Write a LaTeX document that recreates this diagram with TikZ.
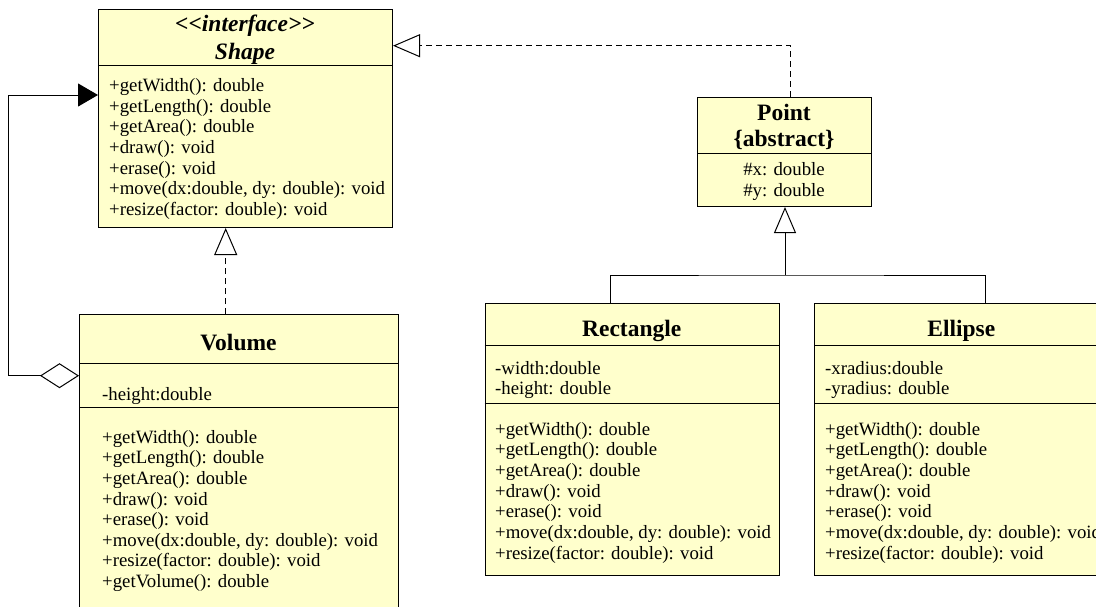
\documentclass[tikz,border=0pt]{standalone}
\usepackage{fontspec}
\setmainfont{Liberation Serif}
\usetikzlibrary{arrows.meta,calc}
\definecolor{classfill}{HTML}{FFFFCC}
\newcommand\memberfont{\fontsize{18.8}{20.6}\selectfont}
\newcommand\umltitlefont{\fontsize{23.5}{27}\selectfont\bfseries}
\newcommand\umlline[4]{\node[member] (#1) at (#2,#3) {#4};}
\begin{document}
\begin{tikzpicture}[x=1pt,y=-1pt,
  classbox/.style={draw=black, fill=classfill, line width=1pt, inner sep=0pt, anchor=north west},
  divider/.style={line width=1pt, draw=black},
  member/.style={anchor=base west, inner sep=0pt, font=\memberfont},
  centred/.style={anchor=base, inner sep=0pt, font=\memberfont},
  umltitle/.style={anchor=base, inner sep=0pt, font=\umltitlefont},
  conn/.style={line width=1pt, draw=black},
  realize/.style={conn, dash pattern=on 6pt off 4pt, -{Triangle[open, length=27pt, width=23pt, line width=1pt]}},
  inherit/.style={conn, -{Triangle[open, length=26pt, width=22pt, line width=1pt]}}
]
\useasboundingbox (0,0) rectangle (1096,606);
\clip (0,0) rectangle (1096,606);
\fill[white] (0,0) rectangle (1096,606);

% ---------- Shape ----------
\node[classbox, minimum width=294pt, minimum height=218pt] (shape) at (98,9) {};
\draw[divider] (98,65.7) -- (392,65.7);
\node[umltitle, font=\umltitlefont\itshape] (shapeS) at (245,31.7) {<\kern0pt<interface>\kern0pt>};
\node[umltitle, font=\umltitlefont\itshape] (shapeT) at (245,59.3) {Shape};
\umlline{s1}{109}{91.7}{+getWidth(): double}
\umlline{s2}{109}{112.3}{+getLength(): double}
\umlline{s3}{109}{132.9}{+getArea(): double}
\umlline{s4}{109}{153.5}{+draw(): void}
\umlline{s5}{109}{174.1}{+erase(): void}
\umlline{s6}{109}{194.7}{+move(dx:double, dy: double): void}
\umlline{s7}{109}{215.3}{+resize(factor: double): void}

% ---------- Point ----------
\node[classbox, minimum width=174pt, minimum height=109.3pt] (point) at (697,96.7) {};
\draw[divider] (697,153.3) -- (871,153.3);
\node[umltitle] (pointT) at (784,120.7) {Point};
\node[umltitle] (pointA) at (784,146.7) {\{abstract\}};
\node[centred] (p1) at (784,175) {\#x: double};
\node[centred] (p2) at (784,196) {\#y: double};

% ---------- Volume ----------
\node[classbox, minimum width=319pt, minimum height=340pt] (volume) at (79,314) {};
\draw[divider] (79,363) -- (398,363);
\draw[divider] (79,407) -- (398,407);
\node[umltitle] (volT) at (238.5,350.7) {Volume};
\umlline{v0}{102}{400.7}{-height:double}
\umlline{v1}{102}{443.3}{+getWidth(): double}
\umlline{v2}{102}{463.9}{+getLength(): double}
\umlline{v3}{102}{484.5}{+getArea(): double}
\umlline{v4}{102}{505.1}{+draw(): void}
\umlline{v5}{102}{525.7}{+erase(): void}
\umlline{v6}{102}{546.3}{+move(dx:double, dy: double): void}
\umlline{v7}{102}{566.9}{+resize(factor: double): void}
\umlline{v8}{102}{587.5}{+getVolume(): double}

% ---------- Rectangle ----------
\node[classbox, minimum width=294pt, minimum height=271.7pt] (rect) at (484.7,303.3) {};
\draw[divider] (484.7,345.7) -- (778.7,345.7);
\draw[divider] (484.7,403.3) -- (778.7,403.3);
\node[umltitle] (rectT) at (631.7,336) {Rectangle};
\umlline{r1}{495}{374}{-width:double}
\umlline{r2}{495}{394.3}{-height: double}
\umlline{r3}{495}{435}{+getWidth(): double}
\umlline{r4}{495}{455.7}{+getLength(): double}
\umlline{r5}{495}{476.4}{+getArea(): double}
\umlline{r6}{495}{497.1}{+draw(): void}
\umlline{r7}{495}{517.8}{+erase(): void}
\umlline{r8}{495}{538.5}{+move(dx:double, dy: double): void}
\umlline{r9}{495}{559.2}{+resize(factor: double): void}

% ---------- Ellipse ----------
\node[classbox, minimum width=294pt, minimum height=271.7pt] (ell) at (814.3,303.3) {};
\draw[divider] (814.3,345.7) -- (1108.3,345.7);
\draw[divider] (814.3,403.3) -- (1108.3,403.3);
\node[umltitle] (ellT) at (961.3,336) {Ellipse};
\umlline{e1}{825}{374}{-xradius:double}
\umlline{e2}{825}{394.3}{-yradius: double}
\umlline{e3}{825}{435}{+getWidth(): double}
\umlline{e4}{825}{455.7}{+getLength(): double}
\umlline{e5}{825}{476.4}{+getArea(): double}
\umlline{e6}{825}{497.1}{+draw(): void}
\umlline{e7}{825}{517.8}{+erase(): void}
\umlline{e8}{825}{538.5}{+move(dx:double, dy: double): void}
\umlline{e9}{825}{559.2}{+resize(factor: double): void}

% ---------- Connectors ----------
% Volume realizes Shape
\coordinate (vx) at (225.7,0);
\draw[realize] (volume.north -| vx) -- (shape.south -| vx);
% Point realizes Shape
\coordinate (pp) at (790.7,45.7);
\draw[realize] (point.north -| pp) -- (pp) -- (pp -| shape.east);
% Rectangle / Ellipse inherit from Point
\coordinate (j) at (785,275);
\coordinate (rx) at (610,0);
\coordinate (ex) at (985.7,0);
\draw[conn] (rect.north -| rx) |- (j) -| (ell.north -| ex);
\draw[inherit] (j) -- (point.south -| j);
% Volume aggregates Shape
\coordinate (aggy) at (0,375.7);
\coordinate (corner) at (8.3,95);
\draw[conn, {Diamond[open, length=39pt, width=25pt, line width=1pt]}-{Triangle[length=20pt, width=23pt]}]
  (volume.west |- aggy) -| (corner) -- (shape.west |- corner);
\end{tikzpicture}
\end{document}
